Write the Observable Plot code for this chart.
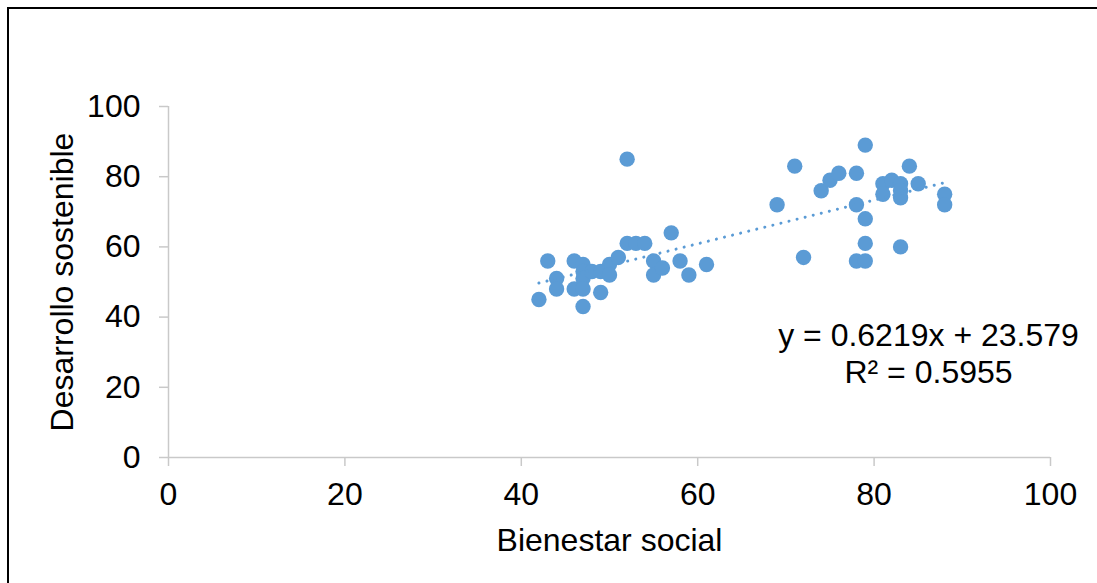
<!DOCTYPE html>
<html>
<head>
<meta charset="utf-8">
<script src="https://cdn.jsdelivr.net/npm/d3@7"></script>
<script src="https://cdn.jsdelivr.net/npm/@observablehq/plot@0.6"></script>
<style>
  html, body { margin: 0; padding: 0; background: #fff; overflow: hidden; }
  #wrap { position: relative; width: 1097px; height: 583px; }
  #frame { position: absolute; left: 7px; top: 7px; width: 1200px; height: 700px;
           border: 2px solid #000; pointer-events: none; box-sizing: border-box; }
</style>
</head>
<body>
<div id="wrap"><div id="frame"></div></div>
<script>
const bienestar = [42,43,44,44,46,46,47,47,47,47,47,48,49,49,50,50,51,52,52,53,54,55,55,56,57,58,59,61,69,71,72,74,75,76,78,78,78,79,79,79,79,81,81,82,83,83,83,83,84,85,88,88];
const desarrollo = [45,56,51,48,56,48,55,53,51,48,43,53,47,53,55,52,57,61,85,61,61,56,52,54,64,56,52,55,72,83,57,76,79,81,81,72,56,89,68,61,56,78,75,79,78,76,74,60,83,78,75,72];
const xTicks = [0,20,40,60,80,100];
const yTicks = [0,20,40,60,80,100];
const slope = 0.6219, intercept = 23.579;
const eqLabel = "y = 0.6219x + 23.579";
const r2Label = "R² = 0.5955";
const xTitle = "Bienestar social";
const yTitle = "Desarrollo sostenible";

const points = bienestar.map((x, i) => ({x, y: desarrollo[i]}));
const trend = d3.extent(bienestar).map(x => ({x, y: slope * x + intercept}));

const axisColor = "#c9c9c9";
const blue = "#5B9BD5";
const fs = 32;

const chart = Plot.plot({
  width: 1097,
  height: 583,
  marginLeft: 168,
  marginRight: 47,
  marginTop: 106,
  marginBottom: 126,
  style: {fontFamily: "'Liberation Sans', Arial, sans-serif", background: "#fff", color: "#000", overflow: "visible"},
  x: {domain: [0, 100]},
  y: {domain: [0, 100]},
  marks: [
    Plot.ruleY([0], {stroke: axisColor, strokeWidth: 1.5}),
    Plot.ruleX([0], {stroke: axisColor, strokeWidth: 1.5}),
    Plot.axisX({ticks: xTicks, tickSize: 9, tickPadding: 16, stroke: axisColor, fill: "#000", fontSize: fs, label: null, strokeWidth: 1.5}),
    Plot.axisY({ticks: yTicks, tickSize: 9, tickPadding: 19, stroke: axisColor, fill: "#000", fontSize: fs, label: null, strokeWidth: 1.5}),
    Plot.dot(points, {x: "x", y: "y", r: 7.7, fill: blue, stroke: "none"}),
    Plot.line(trend, {x: "x", y: "y", stroke: blue, strokeWidth: 3, strokeDasharray: "0.01,8.3", strokeLinecap: "round"}),
    Plot.text([eqLabel + "\n" + r2Label], {frameAnchor: "top-right", dx: -122, dy: 246, textAnchor: "middle", lineAnchor: "middle", lineHeight: 1.15, fontSize: fs, fill: "#000"}),
    Plot.text([xTitle], {frameAnchor: "bottom", dy: 83, textAnchor: "middle", lineAnchor: "middle", fontSize: fs, fill: "#000"}),
    Plot.text([yTitle], {frameAnchor: "left", dx: -106, rotate: -90, textAnchor: "middle", lineAnchor: "middle", fontSize: fs, fill: "#000"})
  ]
});
document.getElementById("wrap").prepend(chart);
</script>
</body>
</html>
